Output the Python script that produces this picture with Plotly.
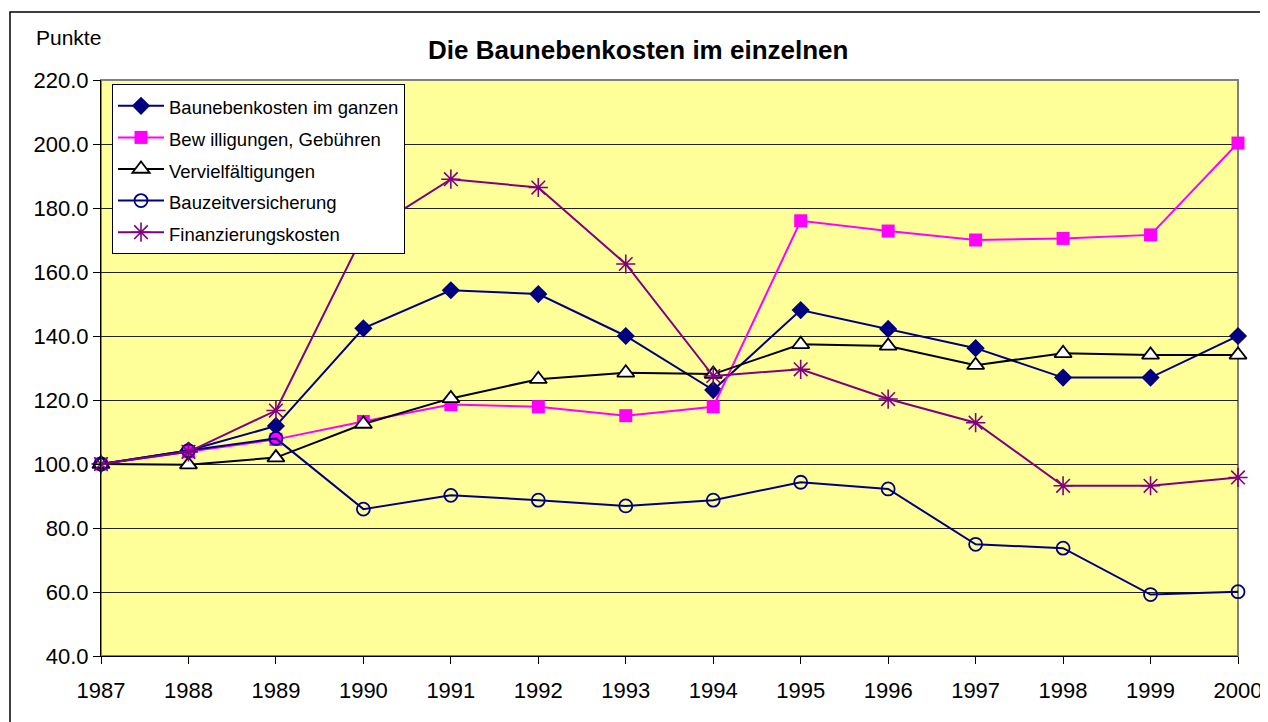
import plotly.graph_objects as go

years = [1987, 1988, 1989, 1990, 1991, 1992, 1993, 1994, 1995, 1996, 1997, 1998, 1999, 2000]

baunebenkosten = [100.0, 104.2, 111.9, 142.4, 154.3, 153.1, 140.0, 123.1, 148.1, 142.2, 136.2, 127.0, 127.0, 140.0]
bewilligungen = [100.0, 103.8, 107.7, 113.3, 118.6, 117.9, 115.1, 117.9, 176.0, 172.8, 170.0, 170.5, 171.6, 200.3]
vervielfaeltigungen = [100.0, 99.8, 102.0, 112.5, 120.5, 126.5, 128.5, 128.1, 137.4, 136.9, 130.9, 134.6, 134.1, 134.1]
bauzeitversicherung = [100.0, 104.2, 108.0, 85.9, 90.2, 88.7, 86.9, 88.7, 94.3, 92.2, 74.9, 73.7, 59.2, 60.1]
finanzierungskosten = [100.0, 103.8, 116.7, 171.7, 189.0, 186.4, 162.5, 127.5, 129.6, 120.3, 112.9, 93.2, 93.2, 95.8]

y_ticks = [40, 60, 80, 100, 120, 140, 160, 180, 200, 220]

FONT = "Liberation Sans, Arial, sans-serif"

fig = go.Figure()

series = [
    ("Baunebenkosten im ganzen", baunebenkosten, "#000080",
     dict(symbol="diamond", size=14, color="#000080", line=dict(width=0))),
    ("Bew illigungen, Gebühren", bewilligungen, "#FF00FF",
     dict(symbol="square", size=13, color="#FF00FF", line=dict(width=0))),
    ("Vervielfältigungen", vervielfaeltigungen, "#000000",
     dict(symbol="triangle-up", size=15, color="#FFFFFF", line=dict(width=1.8, color="#000000"))),
    ("Bauzeitversicherung", bauzeitversicherung, "#000080",
     dict(symbol="circle-open", size=13, color="#000080", line=dict(width=1.8, color="#000080"))),
    ("Finanzierungskosten", finanzierungskosten, "#800080",
     dict(symbol="asterisk-open", size=16, color="#800080", line=dict(width=1.6, color="#800080"))),
]

for name, vals, col, mk in series:
    fig.add_trace(go.Scatter(
        x=years, y=vals, name='<span style="font-size:18.5px">' + name + '</span>',
        mode="lines+markers",
        line=dict(color=col, width=2), marker=mk, cliponaxis=False,
    ))

# page is offset by the default 8px body margin; figure spans page x 8..1268, y 8..722
fig.update_layout(
    width=1260, height=714,
    margin=dict(l=93, r=30, t=72, b=66, autoexpand=False),
    paper_bgcolor="#FFFFFF",
    plot_bgcolor="#FFFF99",
    font=dict(family=FONT, size=22, color="#000000"),
    showlegend=True,
    legend=dict(
        x=(112 - 101) / 1137, y=(656 - 84) / 576, xanchor="left", yanchor="top",
        bgcolor="#FFFFFF", bordercolor="#000000", borderwidth=1,
        font=dict(family=FONT, size=22, color="#000000"),
        tracegroupgap=0, itemwidth=46,
    ),
    xaxis=dict(
        range=[1987, 2000], tickmode="array", tickvals=years,
        ticktext=[str(y) for y in years],
        showgrid=False, zeroline=False, automargin=False,
        showline=True, linecolor="#000000", linewidth=1,
        ticks="outside", ticklen=7, tickcolor="#000000",
        ticklabelstandoff=8,
        tickfont=dict(family=FONT, size=22),
    ),
    yaxis=dict(
        range=[40, 220], tickmode="array", tickvals=y_ticks,
        ticktext=[f"{v:.1f}" for v in y_ticks],
        showgrid=True, gridcolor="#222222", gridwidth=1,
        zeroline=False, automargin=False,
        showline=True, linecolor="#000000", linewidth=1,
        ticks="outside", ticklen=7, tickcolor="#000000",
        tickfont=dict(family=FONT, size=22),
    ),
    shapes=[
        dict(type="rect", xref="paper", yref="paper", x0=0, x1=1, y0=0, y1=1,
             line=dict(color="#808080", width=2), layer="below"),
        dict(type="rect", xref="paper", yref="paper", x0=(10 - 101) / 1137, x1=(1262 - 101) / 1137,
             y0=(656 - 740) / 576, y1=(656 - 12) / 576,
             line=dict(color="#000000", width=1.5), layer="above"),
    ],
    annotations=[
        dict(text="<b>Die Baunebenkosten im einzelnen</b>", xref="paper", yref="paper",
             x=(638 - 101) / 1137, y=(656 - 50) / 576, xanchor="center", yanchor="middle",
             showarrow=False, font=dict(family=FONT, size=26, color="#000000")),
        dict(text="Punkte", xref="paper", yref="paper",
             x=(34 - 101) / 1137, y=(656 - 38) / 576, xanchor="left", yanchor="middle",
             showarrow=False, font=dict(family=FONT, size=21, color="#000000")),
    ],
)

fig.write_html("out.html", config={"displayModeBar": False})
